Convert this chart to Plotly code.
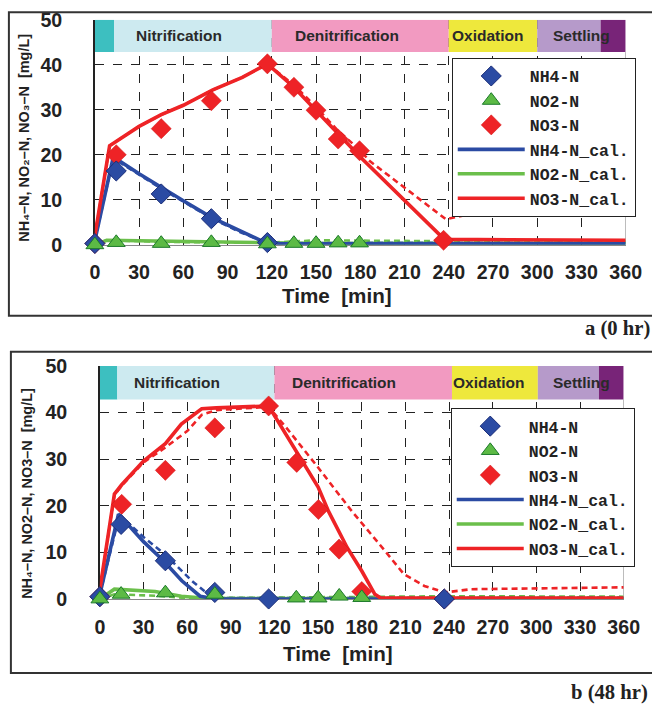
import plotly.graph_objects as go

# Empirical mapping of figure pixels to picture pixels measured in the renderer:
# picture = OFF + S * figure
S = 0.969
OFF_X, OFF_Y = 3.1, 10.3
W, H = 670, 721

# ---------------- DATA ----------------
a_meas_t_nh4 = [0, 14.5, 45, 79, 117, 236.5]
a_nh4 = [0.3, 16.4, 11.3, 5.8, 0.5, -0.6]
a_meas_t_no2 = [0, 14.5, 45, 79, 117, 135, 150, 165, 179.5]
a_no2 = [0.0, 0.5, 0.3, 0.5, 0.2, 0.3, 0.3, 0.4, 0.4]
a_meas_t_no3 = [0, 14.5, 45, 79, 117, 135, 150, 165, 179.5, 236.5]
a_no3 = [0.3, 20.0, 25.8, 32.0, 40.2, 35.0, 29.9, 23.5, 20.9, 1.0]
a_cal_t_nh4 = [0, 12.5, 30, 45, 60, 79, 100, 113, 125, 240, 360]
a_cal_nh4 = [1.0, 19.5, 15.8, 12.7, 9.8, 6.1, 2.8, 0.9, 0.3, 0.2, 0.2]
a_cal_nh4_d = [1.0, 19.2, 15.6, 12.5, 9.6, 5.9, 2.6, 0.9, 0.4, 0.5, 0.5]
a_cal_t_no2 = [0, 8, 30, 60, 120, 150, 240, 360]
a_cal_no2 = [0.0, 1.0, 0.9, 0.7, 0.3, 0.3, 0.3, 0.3]
a_cal_no2_d = [0.0, 1.0, 0.8, 0.6, 0.5, 1.0, 0.8, 0.7]
a_cal_t_no3 = [0, 10, 30, 45, 60, 80, 100, 117, 135, 150, 165, 180, 237, 360]
a_cal_no3 = [2.0, 22.0, 26.3, 28.9, 31.0, 34.4, 37.2, 40.2, 35.0, 29.8, 24.5, 19.5, 1.2, 1.0]
a_cal_t_no3_d = [0, 10, 30, 45, 60, 80, 100, 117, 135, 150, 165, 180, 186, 238, 250, 360]
a_cal_no3_d = [2.0, 22.0, 26.3, 28.9, 31.0, 34.4, 37.2, 40.2, 35.5, 30.6, 25.3, 21.0, 18.7, 5.7, 6.5, 6.8]

b_meas_t_nh4 = [0, 14.6, 45, 79, 116, 236.7]
b_nh4 = [0.5, 16.0, 8.2, 1.4, 0.0, 0.0]
b_meas_t_no2 = [0, 14.6, 45, 79, 116, 135, 150, 164.5, 180, 236.7]
b_no2 = [0.0, 1.0, 1.3, 1.0, -0.3, 0.2, 0.2, 0.6, 0.3, -0.4]
b_meas_t_no3 = [0, 15, 45, 79, 116, 135.3, 150.2, 164.4, 180, 236.7]
b_no3 = [0.5, 20.3, 27.6, 36.7, 41.4, 29.3, 19.2, 10.7, 1.6, 0.0]
b_cal_t_nh4 = [0, 12.8, 30, 43.7, 56.3, 68.9, 80, 120, 240, 360]
b_cal_nh4 = [1.0, 18.2, 12.3, 8.2, 3.9, 0.6, 0.0, 0.0, 0.0, 0.0]
b_cal_t_nh4_d = [0, 13.5, 30, 45, 63.2, 74.6, 85, 120, 240, 360]
b_cal_nh4_d = [1.0, 18.0, 13.3, 9.5, 3.9, 1.0, 0.2, 0.2, 0.3, 0.3]
b_cal_t_no2 = [0, 10, 38, 56, 75, 120, 240, 360]
b_cal_no2 = [0.0, 2.1, 1.6, 0.6, 0.1, 0.1, 0.1, 0.1]
b_cal_no2_d = [0.0, 1.0, 0.7, 0.3, 0.2, 0.3, 0.6, 0.5]
b_cal_t_no3 = [0, 10, 15, 30, 45, 56, 70, 80, 116, 136.5, 150, 157, 170, 180, 189, 193, 240, 360]
b_cal_no3 = [2.0, 22.5, 24.5, 29.6, 33.3, 37.5, 40.8, 41.0, 41.4, 31.0, 24.0, 18.9, 11.0, 6.0, 1.0, 0.2, 0.2, 0.2]
b_cal_t_no3_d = [0, 10, 15, 30, 45, 60, 70, 80, 116, 128, 150, 173, 196, 209, 223, 237, 255, 360]
b_cal_no3_d = [2.0, 22.3, 24.3, 29.3, 32.5, 36.0, 39.5, 40.5, 41.2, 36.8, 28.2, 18.9, 10.3, 5.3, 2.8, 1.4, 2.1, 2.5]

a_phase_edges = [0, 13, 120, 240, 300, 343, 360]
b_phase_edges = [0, 12, 120, 242, 301, 343, 360]
phase_colors = ["#3DBFC0", "#CDEAF0", "#F29AC1", "#EEE83C", "#B69ACA", "#782478"]
phase_names = ["Nitrification", "Denitrification", "Oxidation", "Settling"]
a_label_x = [57, 171, 241, 330]
b_label_x = [53, 168, 241, 331]
label_anchor = ["center", "center", "left", "center"]

x_ticks = list(range(0, 361, 30))
y_ticks = [0, 10, 20, 30, 40, 50]
legend_names = ["NH4-N", "NO2-N", "NO3-N", "NH4-N_cal.", "NO2-N_cal.", "NO3-N_cal."]
a_ytitle = "NH\u2084\u2013N, NO\u2082\u2013N, NO\u2083\u2013N  [mg/L]"
b_ytitle = "NH\u2084\u2013N, NO2\u2013N, NO3\u2013N  [mg/L]"
xtitle = "Time  [min]"
panel_labels = ["a (0 hr)", "b (48 hr)"]

BLUE, GREEN, RED = "#2B4BA3", "#6BBF4B", "#EE2326"


def k(v):
    # size in picture pixels -> figure pixels
    return v / S


fig = go.Figure()


def panel(xa, ya, leg, d):
    (mt_nh4, nh4, mt_no2, no2, mt_no3, no3,
     ct_nh4, c_nh4, ct_nh4_d, c_nh4_d, ct_no2, c_no2, c_no2_d,
     ct_no3, c_no3, ct_no3_d, c_no3_d) = d
    common = dict(xaxis=xa, yaxis=ya, legend=leg, cliponaxis=False)
    dash = "%dpx,%dpx" % (round(k(6)), round(k(4)))
    fig.add_trace(go.Scatter(x=ct_no2, y=c_no2_d, mode="lines", showlegend=False,
                             line=dict(color=GREEN, width=k(2.5), dash=dash), **common))
    fig.add_trace(go.Scatter(x=ct_nh4_d, y=c_nh4_d, mode="lines", showlegend=False,
                             line=dict(color=BLUE, width=k(2.5), dash=dash), **common))
    fig.add_trace(go.Scatter(x=ct_no3_d, y=c_no3_d, mode="lines", showlegend=False,
                             line=dict(color=RED, width=k(2.5), dash=dash), **common))
    fig.add_trace(go.Scatter(x=ct_no2, y=c_no2, mode="lines", name=legend_names[4], legendrank=5,
                             line=dict(color=GREEN, width=k(3.5)), **common))
    fig.add_trace(go.Scatter(x=ct_nh4, y=c_nh4, mode="lines", name=legend_names[3], legendrank=4,
                             line=dict(color=BLUE, width=k(3.5)), **common))
    fig.add_trace(go.Scatter(x=ct_no3, y=c_no3, mode="lines", name=legend_names[5], legendrank=6,
                             line=dict(color=RED, width=k(3.5)), **common))
    fig.add_trace(go.Scatter(x=mt_no3, y=no3, mode="markers", name=legend_names[2], legendrank=3,
                             marker=dict(symbol="diamond", size=k(15), color=RED,
                                         line=dict(color="#D01515", width=0.5)), **common))
    fig.add_trace(go.Scatter(x=mt_nh4, y=nh4, mode="markers", name=legend_names[0], legendrank=1,
                             marker=dict(symbol="diamond", size=k(15), color=BLUE,
                                         line=dict(color="#1A2D78", width=1)), **common))
    fig.add_trace(go.Scatter(x=mt_no2, y=no2, mode="markers", name=legend_names[1], legendrank=2,
                             marker=dict(symbol="triangle-up", size=k(15), color="#5CBA45",
                                         line=dict(color="#1C7A2A", width=1)), **common))


panel("x", "y", "legend", (a_meas_t_nh4, a_nh4, a_meas_t_no2, a_no2, a_meas_t_no3, a_no3,
                           a_cal_t_nh4, a_cal_nh4, a_cal_t_nh4, a_cal_nh4_d, a_cal_t_no2, a_cal_no2, a_cal_no2_d,
                           a_cal_t_no3, a_cal_no3, a_cal_t_no3_d, a_cal_no3_d))
panel("x2", "y2", "legend2", (b_meas_t_nh4, b_nh4, b_meas_t_no2, b_no2, b_meas_t_no3, b_no3,
                              b_cal_t_nh4, b_cal_nh4, b_cal_t_nh4_d, b_cal_nh4_d, b_cal_t_no2, b_cal_no2, b_cal_no2_d,
                              b_cal_t_no3, b_cal_no3, b_cal_t_no3_d, b_cal_no3_d))

shapes = []
annotations = []
tickfont = dict(family="Liberation Sans", size=k(19), color="#222", weight="bold")


def px(x):
    # picture pixel -> paper fraction
    return ((x - OFF_X) / S) / W


def py(y):
    return 1 - ((y - OFF_Y) / S) / H


def axes(xdom, ydom, xanchor, yanchor):
    xa = dict(domain=xdom, range=[0, 360], tickvals=x_ticks, showgrid=True, gridcolor="#222",
              griddash="dash", gridwidth=1, zeroline=False, showline=True, linecolor="#888",
              linewidth=1, ticks="", tickfont=tickfont, ticklabelstandoff=int(round(k(10))),
              fixedrange=True, anchor=yanchor, layer="below traces")
    ya = dict(domain=ydom, range=[0, 50], tickvals=y_ticks, showgrid=True, gridcolor="#222",
              griddash="dash", gridwidth=1, zeroline=False, showline=True, linecolor="#222",
              linewidth=1.5, ticks="", tickfont=tickfont, ticklabelstandoff=int(round(k(26))),
              fixedrange=True, anchor=xanchor, layer="below traces")
    return xa, ya


xa1, ya1 = axes([px(93), px(624)], [py(244), py(19)], "x", "y")
xa2, ya2 = axes([px(98), px(622)], [py(598), py(365)], "x2", "y2")


def bands(xr, yr, edges, label_x):
    for i in range(len(edges) - 1):
        shapes.append(dict(type="rect", xref=xr, yref=yr, x0=edges[i], x1=edges[i + 1],
                           y0=42.8, y1=50, fillcolor=phase_colors[i], line=dict(width=0),
                           layer="between"))
    shapes.append(dict(type="line", xref=xr, yref=yr, x0=360, x1=360, y0=0, y1=42.8,
                       line=dict(color="#888", width=1), layer="between"))
    for name, lx, anc in zip(phase_names, label_x, label_anchor):
        annotations.append(dict(xref=xr, yref=yr, x=lx, y=46.4, text=name, showarrow=False,
                                xanchor=anc, yanchor="middle",
                                font=dict(family="Liberation Sans", size=k(15), color="#2a2a2a",
                                          weight="bold")))


bands("x", "y", a_phase_edges, a_label_x)
bands("x2", "y2", b_phase_edges, b_label_x)

shapes.append(dict(type="rect", xref="paper", yref="paper", x0=px(7), x1=px(660), y0=py(315),
                   y1=min(py(5), 1 - 1.2 / H), line=dict(color="#333", width=2)))
shapes.append(dict(type="rect", xref="paper", yref="paper", x0=px(9), x1=px(660), y0=py(672), y1=py(351),
                   line=dict(color="#333", width=2)))

ytitle_font = dict(family="Liberation Sans", size=k(14), color="#222", weight="bold")
xtitle_font = dict(family="Liberation Sans", size=k(20), color="#222", weight="bold")
label_font = dict(family="Liberation Serif", size=k(20), color="#222", weight="bold")
annotations += [
    dict(xref="paper", yref="paper", x=px(22), y=py(137), textangle=-90, showarrow=False,
         text=a_ytitle, font=ytitle_font, xanchor="center", yanchor="middle"),
    dict(xref="paper", yref="paper", x=px(25), y=py(492), textangle=-90, showarrow=False,
         text=b_ytitle, font=ytitle_font, xanchor="center", yanchor="middle"),
    dict(xref="paper", yref="paper", x=px(335), y=py(295), showarrow=False, text=xtitle,
         font=xtitle_font, xanchor="center", yanchor="middle"),
    dict(xref="paper", yref="paper", x=px(336), y=py(652), showarrow=False, text=xtitle,
         font=xtitle_font, xanchor="center", yanchor="middle"),
    dict(xref="paper", yref="paper", x=px(650), y=py(328), showarrow=False, text=panel_labels[0],
         font=label_font, xanchor="right", yanchor="middle"),
    dict(xref="paper", yref="paper", x=px(648), y=py(691), showarrow=False, text=panel_labels[1],
         font=label_font, xanchor="right", yanchor="middle"),
]

legfont = dict(family="Liberation Mono", size=k(16), color="#222", weight="bold")
fig.update_layout(
    width=W, height=H, margin=dict(l=0, r=0, t=0, b=0),
    paper_bgcolor="white", plot_bgcolor="white",
    xaxis=xa1, yaxis=ya1, xaxis2=xa2, yaxis2=ya2,
    shapes=shapes, annotations=annotations,
    legend=dict(x=px(450), y=py(57), xanchor="left", yanchor="top", bgcolor="white",
                bordercolor="#222", borderwidth=1, font=legfont, itemwidth=int(round(k(65))),
                tracegroupgap=0, traceorder="normal"),
    legend2=dict(x=px(449), y=py(407), xanchor="left", yanchor="top", bgcolor="white",
                 bordercolor="#222", borderwidth=1, font=legfont, itemwidth=int(round(k(65))),
                 tracegroupgap=0, traceorder="normal"),
)

fig.write_html("out.html")
